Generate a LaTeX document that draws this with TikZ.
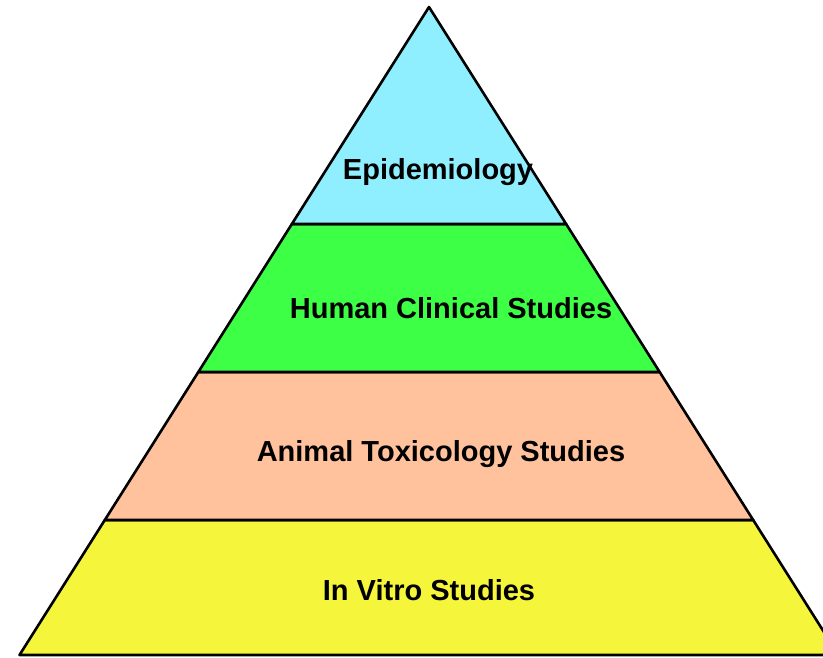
\documentclass[tikz,border=0pt]{standalone}
\usepackage{fontspec}
\setmainfont{Liberation Sans}
\usetikzlibrary{calc}
\definecolor{topcolor}{HTML}{8FEFFF}
\definecolor{humancolor}{HTML}{3DFF45}
\definecolor{animalcolor}{HTML}{FFC29C}
\definecolor{vitrocolor}{HTML}{F5F53C}
\begin{document}
\begin{tikzpicture}[
    x=1pt, y=-1pt,
    band/.style={draw=black, line width=2.6pt, line join=round},
    label/.style={font=\fontsize{29}{34}\selectfont\bfseries, text=black, inner sep=0pt},
]
\clip (0,0) rectangle (823,657);

% Pyramid corners
\coordinate (apex) at (429,7);
\coordinate (bl) at (19.5,655);
\coordinate (br) at (838.5,655);

% Band edges
\coordinate (l1) at ($(apex)!0.3349!(bl)$);
\coordinate (r1) at ($(apex)!0.3349!(br)$);
\coordinate (l2) at ($(apex)!0.5633!(bl)$);
\coordinate (r2) at ($(apex)!0.5633!(br)$);
\coordinate (l3) at ($(apex)!0.7917!(bl)$);
\coordinate (r3) at ($(apex)!0.7917!(br)$);

% Bands
\draw[band, fill=vitrocolor] (l3) -- (r3) -- (br) -- (bl) -- cycle;
\draw[band, fill=animalcolor] (l2) -- (r2) -- (r3) -- (l3) -- cycle;
\draw[band, fill=humancolor] (l1) -- (r1) -- (r2) -- (l2) -- cycle;
\draw[band, fill=topcolor] (apex) -- (r1) -- (l1) -- cycle;

% Labels
\node[label] (epi) at (438,172) {Epidemiology};
\node[label] (human) at (451,308) {Human Clinical Studies};
\node[label] (animal) at (441,454) {Animal Toxicology Studies};
\node[label] (vitro) at (429,590) {In Vitro Studies};

\end{tikzpicture}
\end{document}
